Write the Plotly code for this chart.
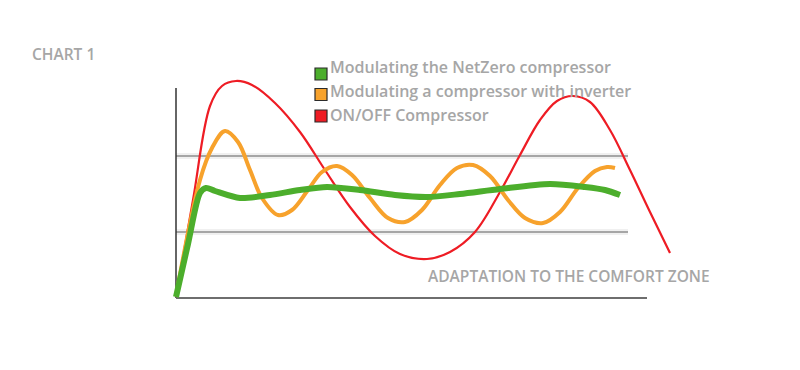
import plotly.graph_objects as go

# ---- data (time units, response value) ----
red_t = [0, 17, 34, 46, 60, 76, 99, 124, 149, 174, 199, 224, 251, 274, 299, 324, 344, 364, 381, 397, 414, 434, 454, 474, 494]
red_v = [1, 98, 192, 212, 217, 213, 195, 166, 128, 91, 62, 44, 39, 46, 66, 106, 143, 178, 197, 202, 196, 168, 128, 86, 45]

orange_t = [0, 24, 36, 49, 62, 74, 86, 102, 116, 132, 146, 161, 176, 194, 212, 229, 246, 264, 281, 297, 314, 332, 349, 367, 384, 402, 419, 431, 439]
orange_v = [2, 118, 150, 167, 156, 128, 100, 83, 88, 108, 126, 132, 123, 100, 80, 76, 88, 113, 130, 133, 122, 98, 80, 75, 86, 110, 127, 131, 130]

green_t = [0, 12, 24, 30, 39, 64, 94, 124, 151, 184, 219, 251, 284, 324, 374, 409, 429, 444]
green_v = [1, 54, 105, 110, 107, 100, 103, 108, 111, 108, 103, 101, 104, 109, 114, 111, 108, 103]

comfort_upper = 142
comfort_lower = 66
axis_t_max = 471
axis_v_max = 210
comfort_t_max = 452

series_names = ["Modulating the NetZero compressor",
                "Modulating a compressor with inverter",
                "ON/OFF Compressor"]
series_colors = ["#4cae2c", "#f7a22c", "#ee1c24"]
title_text = "CHART 1"
xlabel_text = "ADAPTATION TO THE COMFORT ZONE"

TEXT_GRAY = "#a6a6a6"
FONT = "Open Sans"

fig = go.Figure()

# comfort-zone lines (soft halo + line)
for lvl in (comfort_upper, comfort_lower):
    fig.add_shape(type="line", x0=0, x1=comfort_t_max, y0=lvl, y1=lvl,
                  line=dict(color="rgba(0,0,0,0.06)", width=6), layer="below")
    fig.add_shape(type="line", x0=0, x1=comfort_t_max, y0=lvl, y1=lvl,
                  line=dict(color="#8e8e8e", width=1.3), layer="below")

# axes
fig.add_shape(type="line", x0=0, x1=0, y0=0, y1=axis_v_max,
              line=dict(color="#333333", width=1.5), layer="below")
fig.add_shape(type="line", x0=0, x1=axis_t_max, y0=0, y1=0,
              line=dict(color="#6e6e6e", width=2), layer="below")

fig.add_trace(go.Scatter(x=red_t, y=red_v, mode="lines",
                         line=dict(color=series_colors[2], width=2.2, shape="spline", smoothing=1.0),
                         showlegend=False, hoverinfo="skip"))
fig.add_trace(go.Scatter(x=orange_t, y=orange_v, mode="lines",
                         line=dict(color=series_colors[1], width=4, shape="spline", smoothing=1.0),
                         showlegend=False, hoverinfo="skip"))
fig.add_trace(go.Scatter(x=green_t, y=green_v, mode="lines",
                         line=dict(color=series_colors[0], width=6, shape="spline", smoothing=0.8),
                         showlegend=False, hoverinfo="skip"))

# custom legend
leg_text_v = [231, 207.5, 183]
leg_box_v = [224, 203.5, 182]
for name, col, tv, bv in zip(series_names, series_colors, leg_text_v, leg_box_v):
    fig.add_shape(type="rect", x0=139, x1=151, y0=bv - 6, y1=bv + 6,
                  line=dict(color="#2b2b2b", width=1.2), fillcolor=col)
    fig.add_annotation(x=152, y=tv, text=name, showarrow=False,
                       xanchor="left", yanchor="middle",
                       font=dict(family=FONT, size=16, color=TEXT_GRAY, weight=600))

fig.add_annotation(x=-146, y=244.5, text=title_text, showarrow=False,
                   xanchor="left", yanchor="middle",
                   font=dict(family=FONT, size=15.5, color=TEXT_GRAY, weight=600))
fig.add_annotation(x=250, y=22.5, text=xlabel_text, showarrow=False,
                   xanchor="left", yanchor="middle",
                   font=dict(family=FONT, size=15.5, color=TEXT_GRAY, weight=600))

# page has an 8px body margin; ranges are offset so marks land where intended
fig.update_layout(
    width=800, height=370,
    margin=dict(l=0, r=0, t=0, b=0),
    paper_bgcolor="white", plot_bgcolor="white",
    xaxis=dict(range=[-168, 632], visible=False, fixedrange=True),
    yaxis=dict(range=[-80, 290], visible=False, fixedrange=True),
)

fig.write_html("out.html")
